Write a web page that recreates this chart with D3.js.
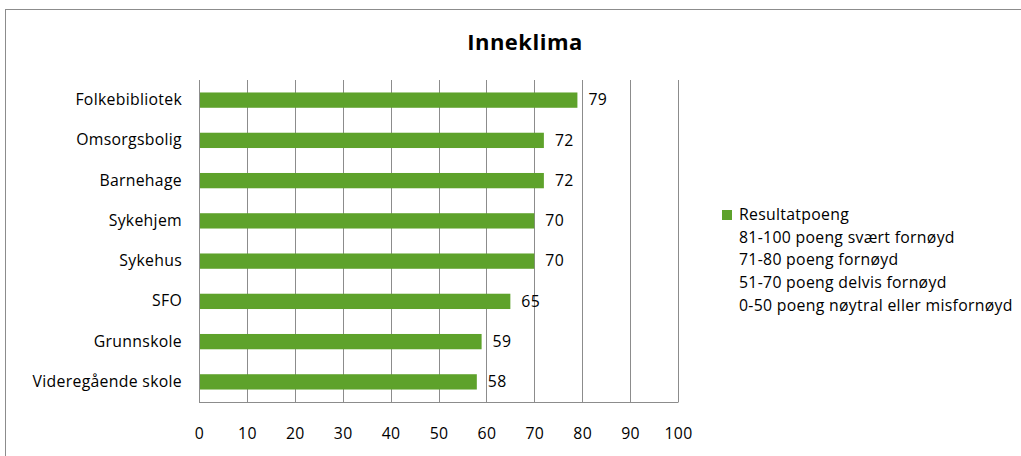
<!DOCTYPE html>
<html><head><meta charset="utf-8">
<script src="https://cdn.jsdelivr.net/npm/d3@7"></script>
<style>
body{margin:0;background:#fff;}
text{font-family:"Open Sans",sans-serif;fill:#000;}
</style></head>
<body>
<svg id="c" width="1021" height="456"></svg>
<script>
const categories = ["Folkebibliotek","Omsorgsbolig","Barnehage","Sykehjem","Sykehus","SFO","Grunnskole","Videregående skole"];
const values = [79,72,72,70,70,65,59,58];
const xTicks = [0,10,20,30,40,50,60,70,80,90,100];
const seriesName = "Resultatpoeng";
const legendNotes = ["81-100 poeng svært fornøyd","71-80 poeng fornøyd","51-70 poeng delvis fornøyd","0-50 poeng nøytral eller misfornøyd"];
const title = "Inneklima";

(function(){
const FONT = "'Open Sans',sans-serif";
const FS = "15.8px", LS = "0.3px";
const svg = d3.select("#c");
svg.append("rect").attr("x",5.5).attr("y",9.5).attr("width",1030).attr("height",460)
  .attr("fill","none").attr("stroke","#8c8c8c").attr("stroke-width",1);

const pL=199, pR=678, pT=80, pB=402;
const x = d3.scaleLinear().domain([0,100]).range([pL,pR]);
const y = d3.scaleBand().domain(categories).range([pT,pB]).paddingInner(0.62).paddingOuter(0.31);

svg.append("g").selectAll("line").data(xTicks).join("line")
  .attr("x1",d=>Math.round(x(d))+0.5).attr("x2",d=>Math.round(x(d))+0.5)
  .attr("y1",pT).attr("y2",pB)
  .attr("stroke","#8c8c8c").attr("stroke-width",1);
svg.append("line").attr("x1",pL).attr("x2",pR+0.5).attr("y1",pB+0.5).attr("y2",pB+0.5)
  .attr("stroke","#8c8c8c");

const xa = d3.axisBottom(x).tickValues(xTicks).tickSize(0).tickPadding(0);
const gx = svg.append("g").attr("transform",`translate(0,${pB+26})`).call(xa);
gx.select(".domain").remove();
gx.selectAll("text").style("font-size",FS).style("font-family",FONT).style("letter-spacing",LS).attr("fill","#000");

const ya = d3.axisLeft(y).tickSize(0).tickPadding(17);
const gy = svg.append("g").attr("transform",`translate(${pL},0)`).call(ya);
gy.select(".domain").remove();
gy.selectAll("text").style("font-size",FS).style("font-family",FONT).style("letter-spacing",LS).attr("fill","#000");

svg.append("g").selectAll("rect").data(values).join("rect")
  .attr("x",x(0)+1).attr("y",(d,i)=>y(categories[i]))
  .attr("width",d=>x(d)-x(0)-1).attr("height",y.bandwidth())
  .attr("fill","#5ea22b");

svg.append("g").selectAll("text").data(values).join("text")
  .attr("x",d=>x(d)+11).attr("y",(d,i)=>y(categories[i])+y.bandwidth()/2+1)
  .attr("dominant-baseline","middle").style("font-size",FS).style("letter-spacing",LS).text(d=>d);

svg.append("text").attr("x",525).attr("y",50).attr("text-anchor","middle")
  .style("font-size","22px").style("font-weight","bold").style("letter-spacing","0.5px").text(title);

const lg = svg.append("g").attr("transform","translate(722,0)");
lg.append("rect").attr("x",0).attr("y",210).attr("width",10).attr("height",10).attr("fill","#5ea22b");
const legendLines=[seriesName].concat(legendNotes);
lg.selectAll("text.l").data(legendLines).join("text").attr("class","l")
  .attr("x",17).attr("y",(d,i)=>216+i*22.6).attr("dominant-baseline","middle")
  .style("font-size",FS).style("letter-spacing",LS).text(d=>d);
})();
</script>
</body></html>
